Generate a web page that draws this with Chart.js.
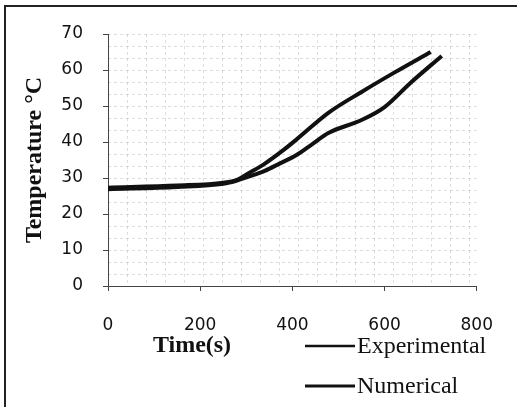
<!DOCTYPE html>
<html>
<head>
<meta charset="utf-8">
<script src="https://cdn.jsdelivr.net/npm/chart.js@4"></script>
<style>
  html, body { margin: 0; padding: 0; background: #fff; }
  #frame { position: absolute; left: 4px; top: 5px; width: 513px; height: 402px;
           border-left: 2px solid #222; border-top: 2px solid #222; }
  #wrap { position: absolute; left: 0; top: 0; width: 517px; height: 407px; }
</style>
</head>
<body>
<div id="frame"></div>
<div id="wrap"><canvas id="c" width="517" height="407"></canvas></div>
<script>
// time (s) and temperature (°C)
const expTimes = [0, 150, 250, 280, 303, 340, 372, 408, 444, 478, 550, 600, 656, 724]
const expTemps = [26.9, 27.5, 28.4, 29.3, 30.3, 32.0, 34.0, 36.3, 39.5, 42.5, 46.1, 49.7, 56.4, 63.9]
const numTimes = [0, 150, 250, 280, 303, 338, 381, 408, 478, 550, 620, 700]
const numTemps = [27.3, 27.9, 28.7, 29.5, 31.2, 33.8, 37.8, 40.6, 48.1, 53.9, 59.2, 65.0]
const xTicks = [0, 200, 400, 600, 800]
const yTicks = [0, 10, 20, 30, 40, 50, 60, 70]
const xTitle = 'Time(s)'
const yTitle = 'Temperature °C'

const toPts = (xs, ys) => xs.map((x, i) => ({x: x, y: ys[i]}))

// paper grid behind the plot + off-centre x title + two-row legend
const decor = {
    id: 'decor',
    beforeDatasetsDraw(chart) {
        const {ctx, chartArea: a} = chart
        ctx.save()
        ctx.strokeStyle = 'rgba(0,0,0,0.13)'
        ctx.lineWidth = 1
        ctx.setLineDash([3, 3])
        for (let x = a.left + 19; x < a.right + 1; x += 19) {
            ctx.beginPath(); ctx.moveTo(Math.round(x) + 0.5, a.top); ctx.lineTo(Math.round(x) + 0.5, a.bottom); ctx.stroke()
        }
        for (let y = a.bottom - 12; y > a.top - 1; y -= 12) {
            ctx.beginPath(); ctx.moveTo(a.left, Math.round(y) + 0.5); ctx.lineTo(a.right, Math.round(y) + 0.5); ctx.stroke()
        }
        ctx.restore()
    },
    afterDraw(chart) {
        const ctx = chart.ctx
        ctx.save()
        ctx.fillStyle = '#111'
        ctx.textBaseline = 'middle'
        ctx.textAlign = 'center'
        ctx.font = 'bold 24px "Liberation Serif", serif'
        ctx.fillText(xTitle, 192, 346)
        ctx.textAlign = 'left'
        ctx.font = '24px "Liberation Serif", serif'
        chart.data.datasets.forEach((ds, i) => {
            const y = 346 + i * 40
            ctx.strokeStyle = ds.borderColor
            ctx.lineWidth = i === 0 ? 2.5 : 3
            ctx.beginPath(); ctx.moveTo(305, y); ctx.lineTo(355, y); ctx.stroke()
            ctx.fillText(ds.label, 357, y + 1)
        })
        ctx.restore()
    }
}

new Chart(document.getElementById('c'), {
    type: 'line',
    data: {
        datasets: [
            {label: 'Experimental', data: toPts(expTimes, expTemps), borderColor: '#111', borderWidth: 4, pointRadius: 0, tension: 0.4, cubicInterpolationMode: 'monotone'},
            {label: 'Numerical', data: toPts(numTimes, numTemps), borderColor: '#111', borderWidth: 4, pointRadius: 0, tension: 0.4, cubicInterpolationMode: 'monotone'}
        ]
    },
    options: {
        responsive: false,
        animation: false,
        layout: {padding: {top: 34, right: 31, left: 0, bottom: 0}},
        plugins: {legend: {display: false}, tooltip: {enabled: false}},
        scales: {
            x: {
                type: 'linear', min: 0, max: 800,
                afterBuildTicks: s => { s.ticks = xTicks.map(v => ({value: v})) },
                afterFit: s => { s.height = 121 },
                ticks: {padding: 24, color: '#111', font: {family: '"DejaVu Sans"', size: 17}},
                grid: {drawOnChartArea: false, tickLength: 5, color: '#444'},
                border: {color: '#444', width: 1}
            },
            y: {
                min: 0, max: 70,
                afterBuildTicks: s => { s.ticks = yTicks.map(v => ({value: v})) },
                afterFit: s => { s.width = 108 },
                ticks: {padding: 20, color: '#111', font: {family: '"DejaVu Sans"', size: 17}},
                grid: {drawOnChartArea: false, tickLength: 5, color: '#444'},
                border: {color: '#444', width: 1},
                title: {display: true, text: yTitle, color: '#111', padding: {top: 20, bottom: 0}, font: {family: '"Liberation Serif"', size: 24, weight: 'bold'}}
            }
        }
    },
    plugins: [decor]
})
</script>
</body>
</html>
